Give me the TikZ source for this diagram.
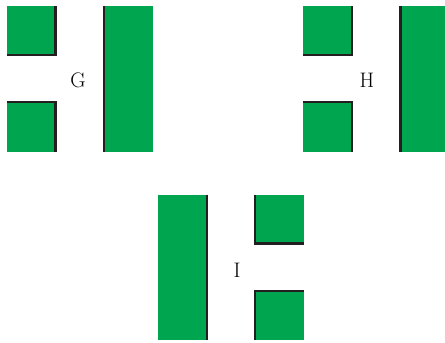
\documentclass[tikz,border=0pt]{standalone}
\usepackage{fontspec}
\definecolor{plate}{RGB}{0,165,80}
\definecolor{edge}{RGB}{35,31,32}
\tikzset{
  plate/.style={fill=plate, draw=none},
  rim/.style={draw=edge, line width=2.2pt, line cap=butt},
  lbl/.style={font=\fontsize{21}{24}\selectfont, inner sep=0pt}
}
\begin{document}
\begin{tikzpicture}[x=1pt,y=-1pt]
\useasboundingbox (0,0) rectangle (445,343);
% ---- G ----
\fill[plate] (7,6) rectangle (55.5,55);
\draw[rim] (55.5,6) -- (55.5,55) -- (7,55);
\fill[plate] (7,102) rectangle (55.5,152);
\draw[rim] (7,102) -- (55.5,102) -- (55.5,152);
\fill[plate] (104,6) rectangle (153,152);
\draw[rim] (104,6) -- (104,152);
\node[lbl] (G) at (78,80.5) {G};
% ---- H ----
\fill[plate] (303,6) rectangle (352,55);
\draw[rim] (352,6) -- (352,55) -- (303,55);
\fill[plate] (303,102) rectangle (352,152);
\draw[rim] (303,102) -- (352,102) -- (352,152);
\fill[plate] (400.5,6) rectangle (445,152);
\draw[rim] (400.5,6) -- (400.5,152);
\node[lbl] (H) at (367,80.5) {H};
% ---- I ----
\fill[plate] (158,194.5) rectangle (207,340);
\draw[rim] (207,194.5) -- (207,340);
\fill[plate] (255,194.5) rectangle (304,243.5);
\draw[rim] (255,194.5) -- (255,243.5) -- (304,243.5);
\fill[plate] (255,291) rectangle (304,340);
\draw[rim] (304,291) -- (255,291) -- (255,340);
\node[lbl] (I) at (237,270) {I};
\end{tikzpicture}
\end{document}
